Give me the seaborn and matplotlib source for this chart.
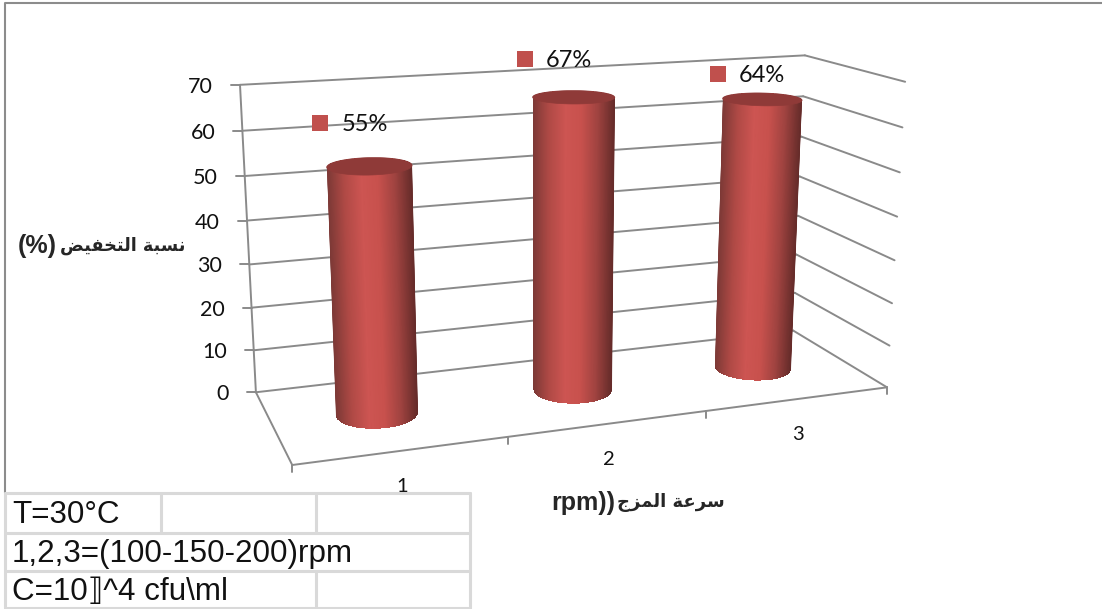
import numpy as np
import matplotlib
matplotlib.use("Agg")
import matplotlib.pyplot as plt
from matplotlib.patches import Polygon
import seaborn as sns

# Chart content
categories = ["1", "2", "3"]
reduction_pct = [55, 67, 64]
value_ticks = [0, 10, 20, 30, 40, 50, 60, 70]
y_title_arabic = "\ufebe\ufef4\ufed4\ufea8\ufe98\ufedf\ufe8d \ufe94\ufe92\ufeb4\ufee7"
y_title_latin = "(%)"
x_title_arabic = "\ufe9d\ufeb0\ufee4\ufedf\ufe8d \ufe94\ufecb\ufeae\ufeb3"
x_title_latin = "rpm))"
notes = ["T=30°C", "1,2,3=(100-150-200)rpm", "C=10\u27e7^4 cfu\\ml"]

sns.set_theme(style="white")
plt.rcParams["font.family"] = ["Lato", "DejaVu Sans"]

W, H = 1102, 609
fig = plt.figure(figsize=(W / 100, H / 100), dpi=100)
ax = fig.add_axes([0, 0, 1, 1])
ax.set_xlim(0, W)
ax.set_ylim(H, 0)
ax.axis("off")

# Perspective camera: world axes are (category position, value, depth), depth 1 = back wall
world = np.array([(0, 0, 1), (0, 70, 1), (3, 0, 1), (3, 70, 1),
                  (3, 0, 0), (3, 70, 0), (0, 0, 0), (1, 0, 0), (2, 0, 0)], float)
image = np.array([(256, 392), (240, 85), (793, 331), (805, 55),
                  (887, 387), (905, 82), (292, 465), (508, 437), (706, 411)], float)


def fit_camera(w, p):
    rows, rhs = [], []
    for (a, b, c), (u, v) in zip(w, p):
        rows.append([a, b, c, 1, 0, 0, 0, 0, -u * a, -u * b, -u * c])
        rows.append([0, 0, 0, 0, a, b, c, 1, -v * a, -v * b, -v * c])
        rhs += [u, v]
    m = np.linalg.lstsq(np.array(rows), np.array(rhs), rcond=None)[0]
    return np.append(m, 1).reshape(3, 4)


CAM = fit_camera(world, image)


def project(x, v, z):
    x, v, z = np.broadcast_arrays(x, v, z)
    h = CAM @ np.vstack([x.ravel(), v.ravel(), z.ravel(), np.ones(x.size)])
    return h[0] / h[2], h[1] / h[2]


def segment(a, b, lw=1.4, color="#8a8a8a", z=1):
    xs, ys = project(*np.array([a, b], float).T)
    sns.lineplot(x=xs, y=ys, ax=ax, color=color, lw=lw, sort=False,
                 estimator=None, zorder=z, legend=False)


def convex_hull(points):
    pts = sorted(map(tuple, points))

    def half(seq):
        out = []
        for p in seq:
            while len(out) > 1 and ((out[-1][0] - out[-2][0]) * (p[1] - out[-2][1])
                                    - (out[-1][1] - out[-2][1]) * (p[0] - out[-2][0])) <= 0:
                out.pop()
            out.append(p)
        return out[:-1]

    return np.array(half(pts) + half(pts[::-1]))


# Gridlines on back and right walls, value ticks and labels
for v in value_ticks:
    segment((0, v, 1), (3, v, 1))
    segment((3, v, 1), (3, v, 0))
    px, py = project(0, v, 1)
    ax.plot([px[0] - 9, px[0]], [py[0], py[0]], color="#8a8a8a", lw=1.4, zorder=1)
    ax.text(px[0] - 27, py[0] + 2, str(v), ha="right", va="center", fontsize=15.5, color="#111111")
segment((0, 0, 1), (0, 70, 1))
segment((0, 0, 1), (0, 0, 0))
segment((0, 0, 0), (3, 0, 0))
for c in range(4):
    px, py = project(c, 0, 0)
    ax.plot([px[0], px[0]], [py[0], py[0] + 7], color="#8a8a8a", lw=1.4, zorder=1)

# Cylinders: a horizontal shading ramp clipped to each body's outline
shade = sns.blend_palette(["#7c3936", "#b04a46", "#cd5552", "#c8514d", "#a04340", "#662c2a"], as_cmap=True)
RADIUS_X, RADIUS_Z = 0.195, 0.2
angles = np.linspace(0, 2 * np.pi, 361)
for i, value in enumerate(reduction_pct):
    cx, cz = i + 0.5, 0.5
    rim_x = cx + RADIUS_X * np.cos(angles)
    rim_z = cz + RADIUS_Z * np.sin(angles)
    bx, by = project(rim_x, 0, rim_z)
    tx, ty = project(rim_x, value, rim_z)
    y_top, y_bot = ty.mean(), by.mean()
    pad = 30
    slope_l = (bx.min() - tx.min()) / (y_bot - y_top)
    slope_r = (bx.max() - tx.max()) / (y_bot - y_top)
    fractions = np.linspace(0, 1, 101)
    ys = np.array([y_top - pad, y_bot + pad])
    lefts = tx.min() + slope_l * (ys - y_top)
    rights = tx.max() + slope_r * (ys - y_top)
    X = np.outer(lefts, 1 - fractions) + np.outer(rights, fractions)
    Y = np.repeat(ys[:, None], fractions.size, axis=1)
    C = np.tile(fractions, (2, 1))
    mesh = ax.pcolormesh(X, Y, C, shading="gouraud", cmap=shade, vmin=0, vmax=1, zorder=3)
    outline = Polygon(convex_hull(np.column_stack([np.r_[bx, tx], np.r_[by, ty]])),
                      closed=True, transform=ax.transData, fc="none", ec="none")
    ax.add_patch(outline)
    mesh.set_clip_path(outline)
    ax.add_patch(Polygon(np.column_stack([tx, ty]), closed=True, fc="#8f3a38", ec="#8f3a38", lw=0.5, zorder=4))

# Value labels with square keys, set above the bars
label_nudge = [(-49, -43), (-49, -38), (-44, -25)]
for i, value in enumerate(reduction_pct):
    px, py = project(i + 0.5, value, 0.5)
    mx, my = px[0] + label_nudge[i][0], py[0] + label_nudge[i][1]
    ax.scatter([mx], [my], marker="s", s=117, color="#c0504d", zorder=5, linewidths=0)
    ax.text(mx + 21, my + 1, f"{value}%", ha="left", va="center", fontsize=17, color="#111111", zorder=5)

# Category labels along the front floor edge
for i, c in enumerate(categories):
    px, py = project(i + 0.5, 0, 0)
    ax.text(px[0] - 0.5, py[0] + 36, c, ha="center", va="center", fontsize=14.5, color="#111111")

# Axis titles: the Latin part is set larger than the Arabic part
latin_font = ["Liberation Sans"]
arabic_font = ["DejaVu Sans"]
ax.text(185, 246, y_title_arabic, ha="right", va="center", fontsize=12.7, fontweight="bold", family=arabic_font)
ax.text(57, 246, y_title_latin, ha="right", va="center", fontsize=18, fontweight="bold", family=latin_font)
ax.text(725, 503, x_title_arabic, ha="right", va="center", fontsize=13, fontweight="bold", family=arabic_font)
ax.text(615, 503, x_title_latin, ha="right", va="center", fontsize=18, fontweight="bold", family=latin_font)

# Frame around the plot area
ax.plot([5, 5, W], [493, 3, 3], color="#8c8c8c", lw=1.5, zorder=0)

# Notes table below the plot
grid = "#d9d9d9"
cols_x = [5, 161, 316, 470]
rows_y = [493, 533, 571, 608]
ax.fill_between([5, 470], 493, 608, color="white", zorder=6, lw=0)
for y in rows_y:
    ax.plot([cols_x[0], cols_x[-1]], [y, y], color=grid, lw=2.2, zorder=6)
ax.plot([5, 5], [493, 608], color=grid, lw=2.2, zorder=6)
ax.plot([470, 470], [493, 608], color=grid, lw=2.2, zorder=6)
ax.plot([161, 161], [493, 533], color=grid, lw=2.2, zorder=6)
ax.plot([316, 316], [493, 533], color=grid, lw=2.2, zorder=6)
ax.plot([316, 316], [571, 608], color=grid, lw=2.2, zorder=6)
for note, y in zip(notes, [515, 554, 592]):
    ax.text(12, y, note, ha="left", va="center", fontsize=22.6, color="#111111",
            family=["Liberation Sans", "DejaVu Sans"], zorder=7)

ax.set_xlim(0, W)
ax.set_ylim(H, 0)
fig.savefig("out.png", dpi=100, facecolor="white")
